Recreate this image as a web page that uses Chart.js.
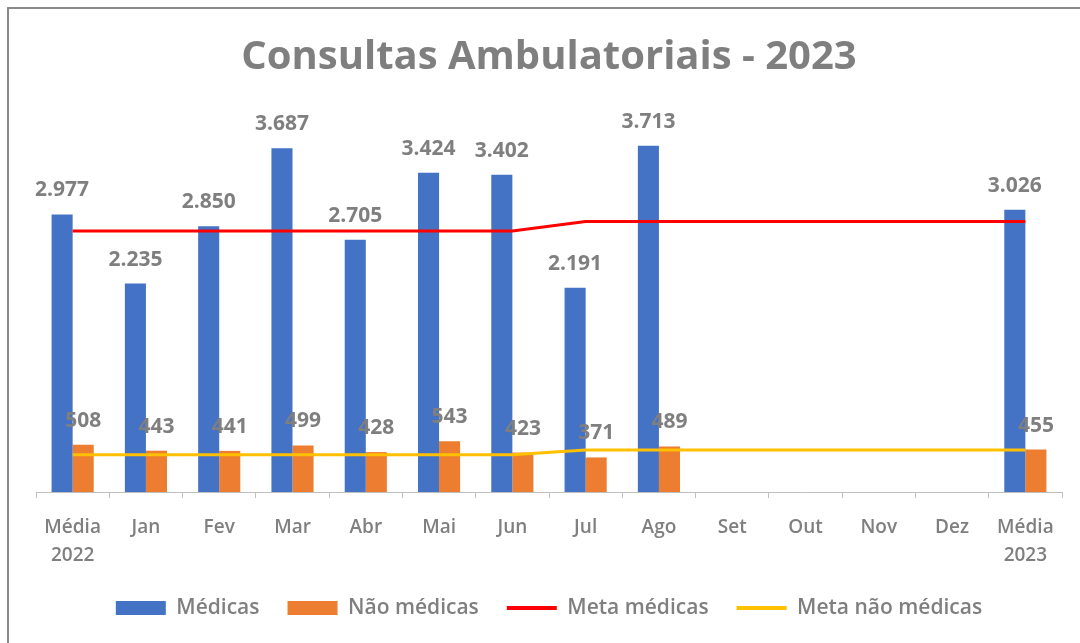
<!DOCTYPE html>
<html>
<head>
<meta charset="utf-8">
<script src="https://cdn.jsdelivr.net/npm/chart.js@4"></script>
<style>
  html, body { margin: 0; padding: 0; background: #fff; overflow: hidden; }
  #frame {
    position: absolute; left: 7px; top: 7px; width: 2000px; height: 2000px;
    border-top: 2px solid #8a8a8a; border-left: 2px solid #8a8a8a;
  }
  #wrap { position: absolute; left: 0; top: 0; width: 1080px; height: 643px; }
</style>
</head>
<body>
<div id="frame"></div>
<div id="wrap"><canvas id="chart" width="1080" height="643"></canvas></div>
<script>
  const categories = [["Média", "2022"], "Jan", "Fev", "Mar", "Abr", "Mai", "Jun", "Jul", "Ago", "Set", "Out", "Nov", "Dez", ["Média", "2023"]];
  const medicas = [2977, 2235, 2850, 3687, 2705, 3424, 3402, 2191, 3713, null, null, null, null, 3026];
  const naoMedicas = [508, 443, 441, 499, 428, 543, 423, 371, 489, null, null, null, null, 455];
  const metaMedicas = [2800, 2800, 2800, 2800, 2800, 2800, 2800, 2900, 2900, 2900, 2900, 2900, 2900, 2900];
  const metaNaoMedicas = [400, 400, 400, 400, 400, 400, 400, 450, 450, 450, 450, 450, 450, 450];

  const gray = "#7f7f7f";
  const fontFamily = "'Open Sans', Lato, sans-serif";

  function fmt(v) {
    // 2977 -> "2.977"
    return String(v).replace(/\B(?=(\d{3})+(?!\d))/g, ".");
  }

  // rótulos de dados em cima das barras
  const barLabels = {
    id: "barLabels",
    afterDatasetsDraw(chart) {
      const ctx = chart.ctx;
      ctx.save();
      ctx.font = "bold 21px " + fontFamily;
      ctx.fillStyle = gray;
      ctx.textAlign = "center";
      ctx.textBaseline = "middle";
      chart.data.datasets.forEach((ds, i) => {
        if (ds.type !== "bar") return;
        const meta = chart.getDatasetMeta(i);
        meta.data.forEach((bar, j) => {
          const v = ds.data[j];
          if (v === null || v === undefined) return;
          ctx.fillText(fmt(v), bar.x, bar.y - 24);
        });
      });
      ctx.restore();
    }
  };

  new Chart(document.getElementById("chart"), {
    data: {
      labels: categories,
      datasets: [
        { type: "line", label: "Meta médicas", data: metaMedicas, borderColor: "#ff0000", backgroundColor: "#ff0000", borderWidth: 3, pointRadius: 0, tension: 0, order: 1 },
        { type: "line", label: "Meta não médicas", data: metaNaoMedicas, borderColor: "#ffc000", backgroundColor: "#ffc000", borderWidth: 3, pointRadius: 0, tension: 0, order: 1 },
        { type: "bar", label: "Médicas", data: medicas, backgroundColor: "#4472c4", categoryPercentage: 0.575, barPercentage: 1, order: 2 },
        { type: "bar", label: "Não médicas", data: naoMedicas, backgroundColor: "#ed7d31", categoryPercentage: 0.575, barPercentage: 1, order: 2 }
      ]
    },
    options: {
      responsive: false,
      animation: false,
      layout: { padding: { left: 36, right: 18, top: 10, bottom: 14.5 } },
      plugins: {
        title: {
          display: true,
          text: "Consultas Ambulatoriais - 2023",
          color: gray,
          font: { family: fontFamily, size: 40, weight: "bold" },
          padding: { top: 24, bottom: 37 }
        },
        legend: {
          position: "bottom",
          labels: {
            color: gray,
            font: { family: fontFamily, size: 21, weight: "600" },
            usePointStyle: true,
            pointStyleWidth: 50,
            boxHeight: 14,
            padding: 28,
            sort: (a, b) => {
              const ord = ["Médicas", "Não médicas", "Meta médicas", "Meta não médicas"];
              return ord.indexOf(a.text) - ord.indexOf(b.text);
            },
            generateLabels: (chart) => {
              return chart.data.datasets.map((ds, i) => ({
                text: ds.label,
                fillStyle: ds.backgroundColor,
                strokeStyle: ds.type === "line" ? ds.borderColor : ds.backgroundColor,
                lineWidth: ds.type === "line" ? 4 : 0,
                pointStyle: ds.type === "line" ? "line" : "rect",
                fontColor: gray,
                datasetIndex: i,
                hidden: false
              }));
            }
          }
        },
        tooltip: { enabled: false }
      },
      scales: {
        x: {
          offset: true,
          grid: { display: true, offset: true, drawOnChartArea: false, drawTicks: true, tickLength: 6, color: "#bfbfbf" },
          border: { display: true, color: "#bfbfbf" },
          ticks: {
            color: gray,
            font: { family: fontFamily, size: 19, weight: "600", lineHeight: 1.5 },
            padding: 15,
            maxRotation: 0,
            autoSkip: false
          },
          // aproxima a legenda dos rótulos do eixo
          afterFit: (scale) => { scale.height -= 15.5; }
        },
        y: {
          display: false,
          min: 0,
          max: 4000
        }
      }
    },
    plugins: [barLabels]
  });
</script>
</body>
</html>
